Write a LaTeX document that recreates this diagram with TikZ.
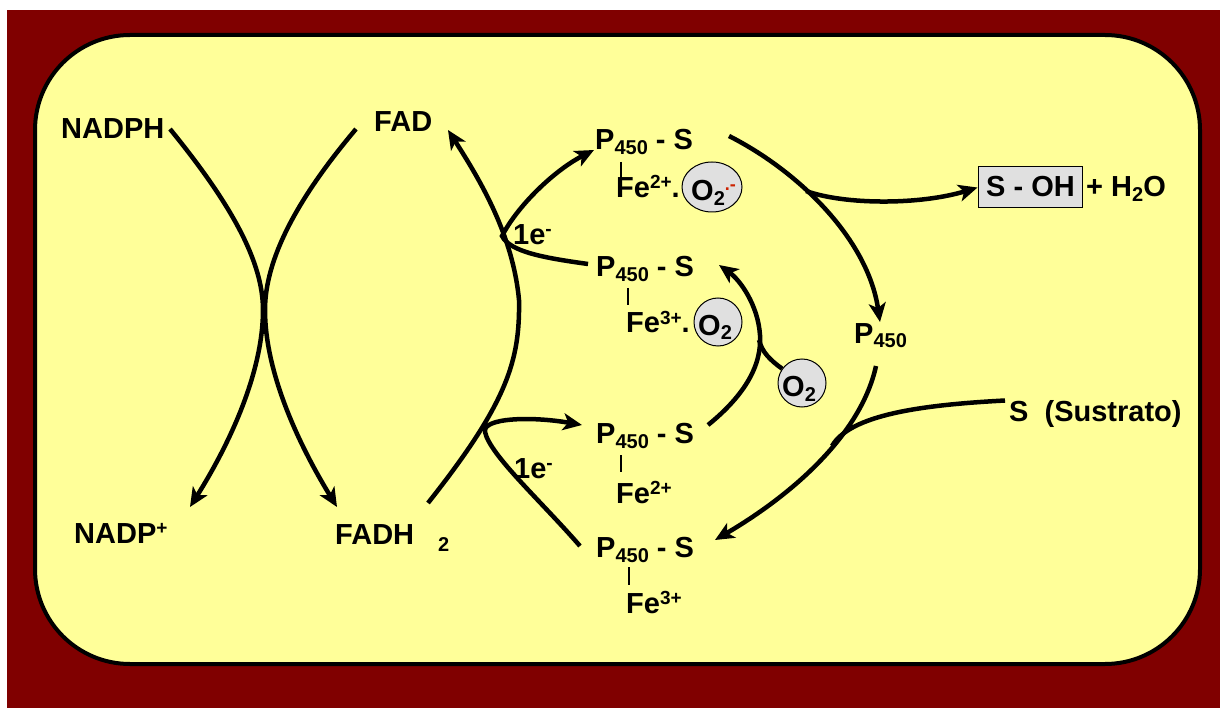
\documentclass[tikz,border=0pt]{standalone}
\usepackage{fontspec}
\setmainfont{Liberation Sans}
\usetikzlibrary{arrows.meta,shapes.geometric}
\definecolor{bgred}{HTML}{800000}
\definecolor{boxyellow}{HTML}{FFFF99}
\definecolor{ogray}{HTML}{E0E0E0}
\definecolor{radred}{HTML}{CC2200}
\newcommand\subx[1]{\raisebox{-5pt}{\fontsize{20}{20}\selectfont #1}}
\newcommand\supx[1]{\raisebox{9pt}{\fontsize{19}{19}\selectfont #1}}
\begin{document}
\begin{tikzpicture}[x=1pt,y=-1pt,
  lbl/.style={font=\fontsize{29}{31}\selectfont\bfseries, inner sep=0pt, anchor=base west},
  small/.style={font=\fontsize{20}{21}\selectfont\bfseries, inner sep=0pt, anchor=base west},
  flow/.style={line width=4.5pt, -{Stealth[length=19pt,width=17pt,inset=5pt]}},
  plain/.style={line width=4.5pt},
  bond/.style={line width=2.5pt},
  oxy/.style={ellipse, draw=black, line width=1pt, fill=ogray, inner sep=0pt}]
\useasboundingbox (0,0) rectangle (1220,708);
\fill[white] (0,0) rectangle (1220,708);
\fill[bgred] (7,10) rectangle (1220,708);
\draw[line width=4pt, fill=boxyellow, rounded corners=95pt] (35,35) rectangle (1200,664);

% labels
\node[lbl] (nadph) at (61,139) {NADPH};
\node[lbl] (fad) at (374,132) {FAD};
\node[lbl] (nadp) at (74,543) {NADP\supx{+}};
\node[lbl] (fadh) at (335,544) {FADH};
\node[small] (fadhtwo) at (438,551) {2};

\node[lbl] (p1) at (595,150) {P\subx{450} - S};
\draw[bond] (621,162) -- (621,178);
\node[lbl] (fe1) at (616,198) {Fe\supx{2+}.};
\node[oxy, minimum width=60pt, minimum height=50pt] (o1) at (712,187) {};
\node[lbl] (o1t) at (691,201) {O\subx{2}\raisebox{10pt}{\color{radred}\fontsize{18}{18}\selectfont .-}};

\node[lbl] (p2) at (596,277) {P\subx{450} - S};
\draw[bond] (628,288) -- (628,305);
\node[lbl] (fe2) at (626,333) {Fe\supx{3+}.};
\node[oxy, minimum width=48pt, minimum height=48pt] (o2) at (718,322) {};
\node[lbl] (o2t) at (698,335) {O\subx{2}};

\node[oxy, minimum width=48pt, minimum height=48pt] (o3) at (802,383) {};
\node[lbl] (o3t) at (782,396) {O\subx{2}};

\node[lbl] (p3) at (596,443) {P\subx{450} - S};
\draw[bond] (621,455) -- (621,472);
\node[lbl] (fe3) at (616,503) {Fe\supx{2+}};

\node[lbl] (p4) at (596,557) {P\subx{450} - S};
\draw[bond] (629,567) -- (629,585);
\node[lbl] (fe4) at (626,613) {Fe\supx{3+}};

\node[lbl] (p450) at (854,343) {P\subx{450}};
\node[lbl] (sus) at (1009,421) {S\ \ (Sustrato)};
\node[draw=black, line width=1pt, fill=ogray, minimum width=104pt, minimum height=41pt, inner sep=0pt] (soh) at (1030,187.5) {};
\node[lbl] (soht) at (986,197) {S - OH};
\node[lbl] (water) at (1086,197) {+ H\subx{2}O};

\node[lbl] (e1) at (513,245) {1e\supx{-}};
\node[lbl] (e2) at (514,478) {1e\supx{-}};

% connectors
\coordinate (nadphE) at (170,129);
\coordinate (nadpN) at (190,507);
\coordinate (fadS) at (356,129);
\coordinate (fadhN) at (337,507);
\coordinate (fadhNE) at (428,503);
\coordinate (fadSE) at (448,130);
\draw[flow] (nadphE) .. controls (232,205) and (263,262) .. (263,310) .. controls (263,370) and (232,440) .. (nadpN);
\draw[flow] (fadS) .. controls (296,200) and (265,260) .. (265,310) .. controls (265,370) and (296,440) .. (fadhN);
\draw[flow] (fadhNE) .. controls (508,402) and (520,360) .. (519,300) .. controls (513,235) and (480,180) .. (fadSE);

\coordinate (j1) at (502,236);
\coordinate (p1W) at (594,150);
\coordinate (p2W) at (588,264);
\draw[flow] (p2W) .. controls (545,258) and (510,252) .. (j1) .. controls (518,205) and (555,170) .. (p1W);

\coordinate (j2) at (485,432);
\coordinate (p3W) at (582,425);
\coordinate (p4W) at (580,546);
\draw[flow] (p4W) .. controls (540,500) and (490,455) .. (j2) .. controls (482,418) and (530,416) .. (p3W);

\coordinate (p3E) at (708,425);
\coordinate (p2E) at (719,265);
\coordinate (j3) at (760,335);
\draw[flow] (p3E) .. controls (745,395) and (762,365) .. (j3) .. controls (758,305) and (740,280) .. (p2E);
\draw[plain] (o3) .. controls (770,360) and (762,352) .. (759,340);

\coordinate (p1E) at (729,136);
\coordinate (p450N) at (880,322);
\draw[flow] (p1E) .. controls (800,172) and (868,240) .. (p450N);
\draw[flow] (806,191) .. controls (845,205) and (920,205) .. (soh.west);

\coordinate (p450S) at (876,366);
\coordinate (p4E) at (715,540);
\draw[flow] (p450S) .. controls (862,430) and (800,490) .. (p4E);
\draw[plain] (sus.west) ++(-4,-13) .. controls (920,405) and (850,415) .. (832,446);
\end{tikzpicture}
\end{document}
